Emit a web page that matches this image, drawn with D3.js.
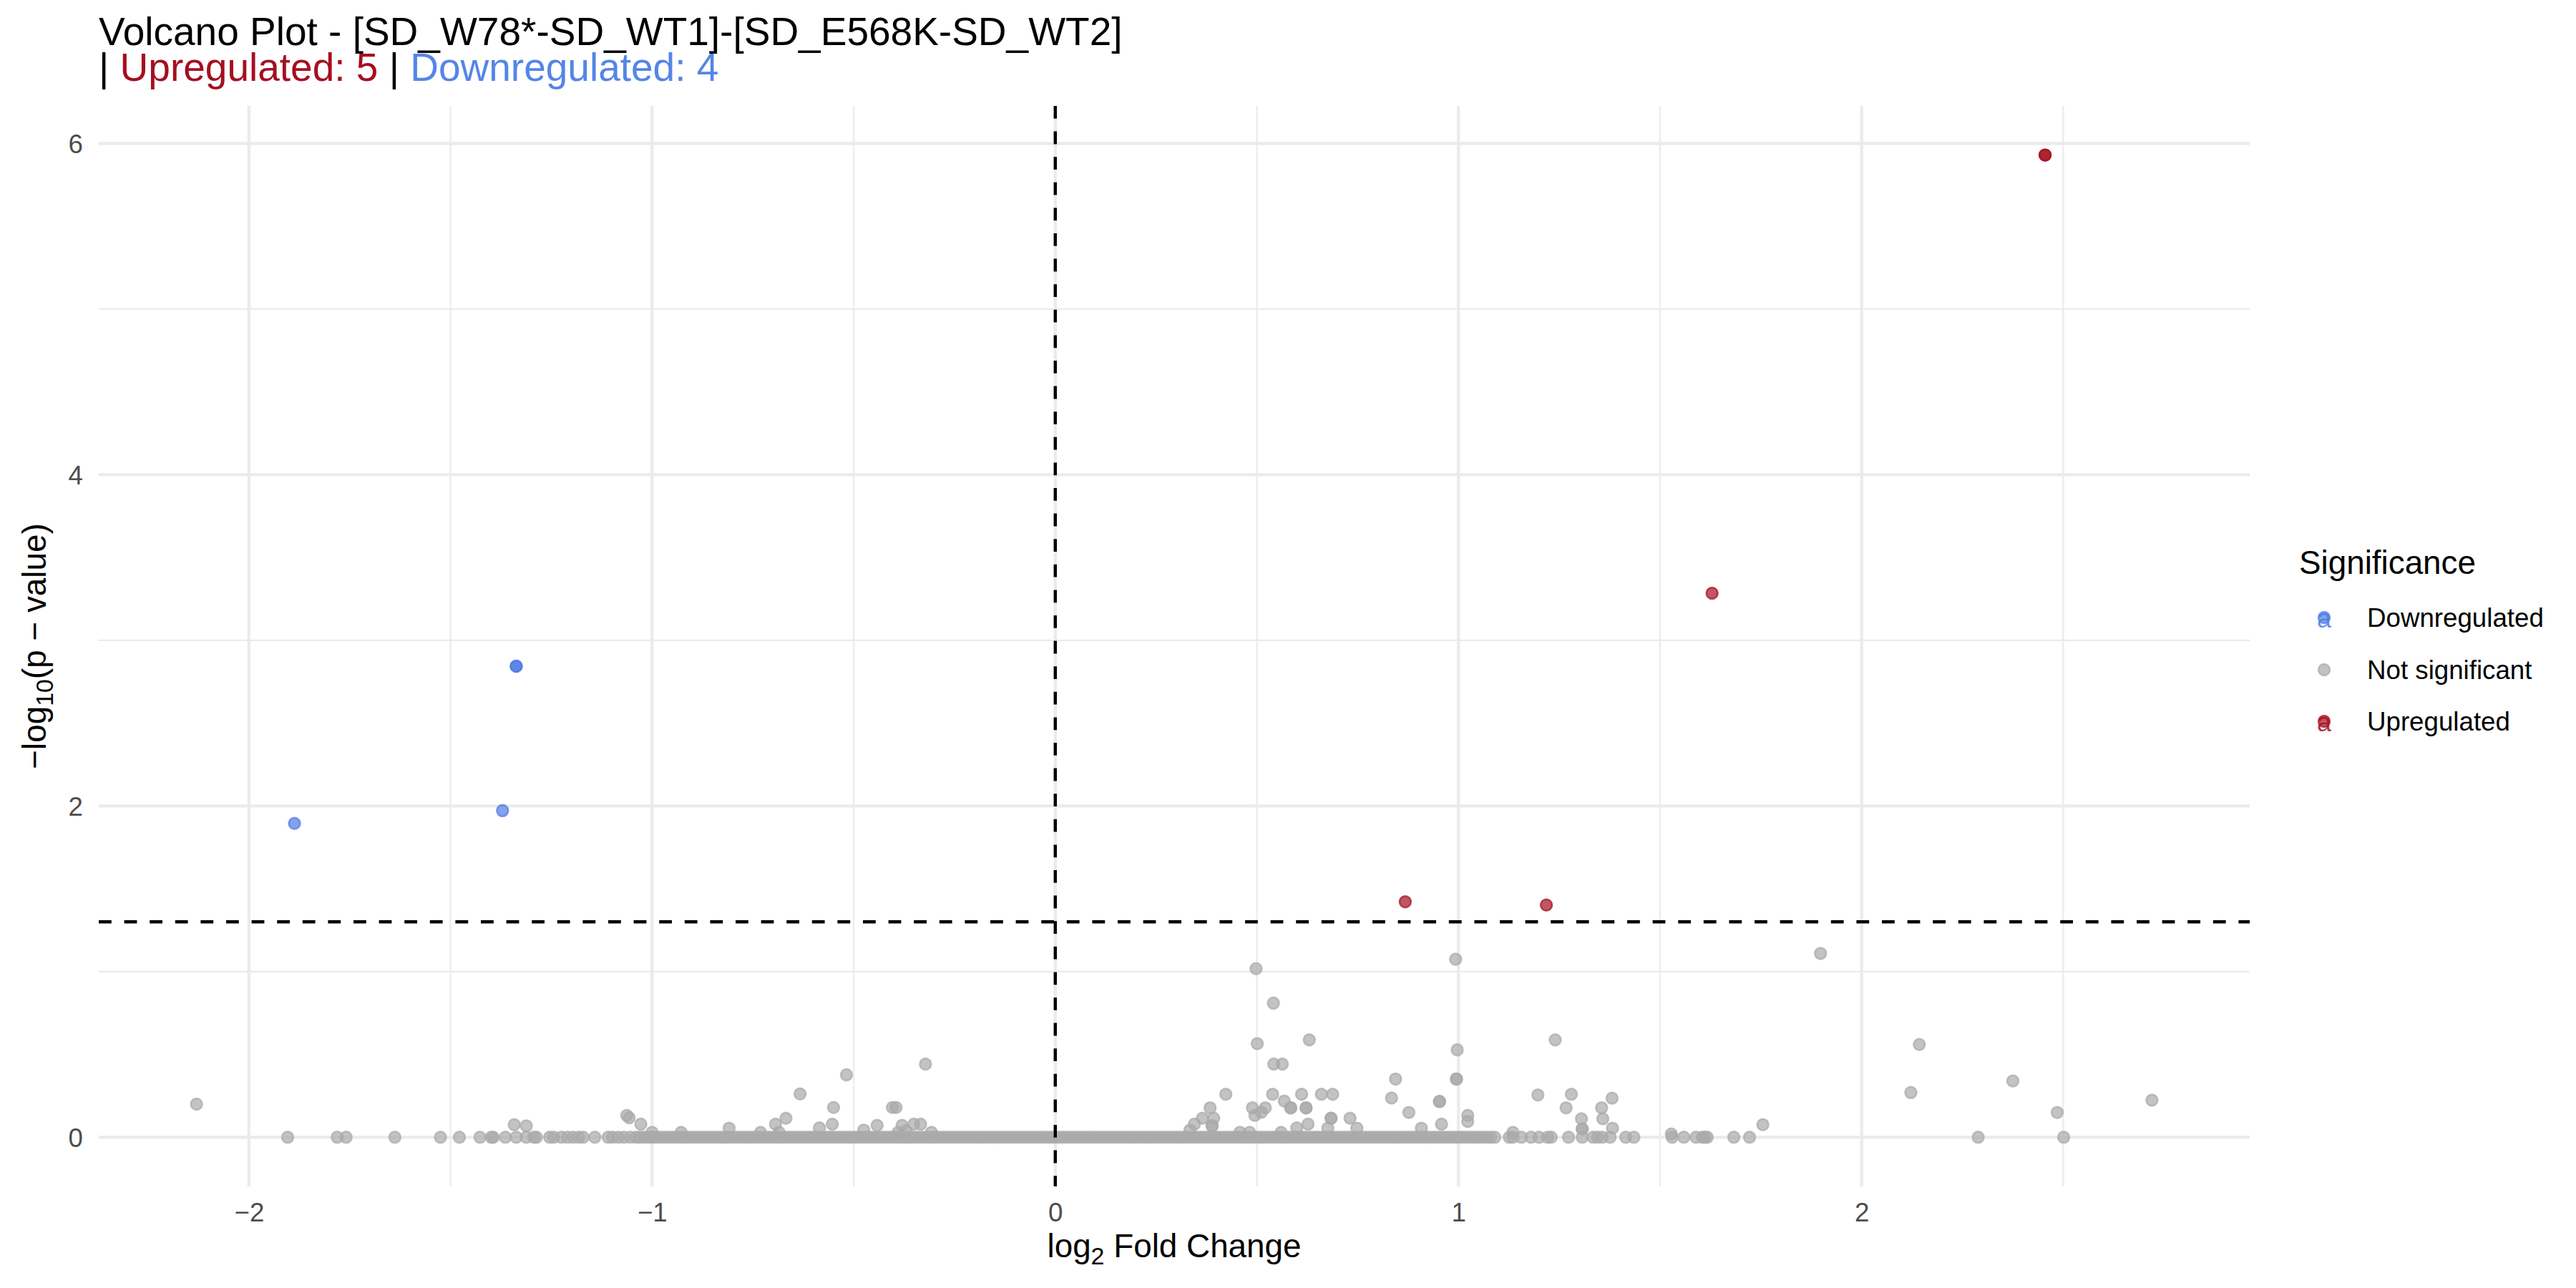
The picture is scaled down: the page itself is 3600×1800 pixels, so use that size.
<!DOCTYPE html>
<html><head><meta charset="utf-8">
<script src="https://cdn.jsdelivr.net/npm/d3@7"></script>
<style>html,body{margin:0;padding:0;background:#fff}</style>
</head><body><svg id="chart" width="3600" height="1800"></svg>
<script>
// ---------------- data ----------------
const titleMain = "Volcano Plot - [SD_W78*-SD_WT1]-[SD_E568K-SD_WT2]";
const upCount = 5, downCount = 4;
const categories = ["Downregulated", "Not significant", "Upregulated"];
const xTicks = [-2, -1, 0, 1, 2];
const yTicks = [0, 2, 4, 6];
const pCutoff = 0.05;
const fcCutoff = 0;

// Upregulated (log2FC, -log10 p)
const upX = [2.455, 2.455, 1.629, 0.868, 1.218];
const upY = [5.93, 5.93, 3.285, 1.422, 1.402];
// Downregulated
const downX = [-1.337, -1.337, -1.371, -1.887];
const downY = [2.844, 2.844, 1.972, 1.895];

// Not significant, scattered points
const nsX = [
 -2.13, -1.904, -1.781, -1.759, -1.638, -1.525, -1.478, -1.427, -1.399, -1.394, -1.364, -1.337, -1.312,
 -1.293, -1.287, -1.254, -1.244, -1.225, -1.210, -1.196, -1.182, -1.171, -1.142, -1.109, -1.098, -1.084,
 -1.070, -1.054,
 -1.342, -1.312, -1.063, -1.057, -1.028, -1.000, -0.928, -0.809, -0.731, -0.694, -0.668, -0.633, -0.685,
 -0.585, -0.553, -0.550, -0.518, -0.475, -0.442, -0.404, -0.395, -0.390, -0.380, -0.370, -0.351, -0.334,
 -0.322, -0.307,
 0.498, 0.541, 0.501, 0.630, 0.542, 0.563, 0.423, 0.539, 0.611, 0.660, 0.688, 0.844, 0.834, 0.877, 0.908,
 0.384, 0.365, 0.393, 0.345, 0.334, 0.389, 0.389, 0.489, 0.521, 0.495, 0.511, 0.568, 0.584, 0.584, 0.622,
 0.622, 0.684, 0.684, 0.731, 0.748, 0.599, 0.627, 0.676, 0.560, 0.458, 0.482,
 0.993, 0.997, 0.995, 0.995, 0.953, 0.953, 0.958, 1.023, 1.023, 1.240, 1.197, 1.280, 1.267, 1.381, 1.355,
 1.358, 1.305, 1.307, 1.307, 1.382, 1.135, 1.528, 1.755,
 1.090, 1.126, 1.135, 1.156, 1.180, 1.200, 1.221, 1.230, 1.273, 1.307, 1.334, 1.345, 1.357, 1.376, 1.415,
 1.435, 1.530, 1.559, 1.589, 1.605, 1.611, 1.617, 1.683, 1.722,
 1.898, 2.143, 2.122, 2.375, 2.485, 2.72, 2.289, 2.501
];
const nsY = [
 0.20, 0, 0, 0, 0, 0, 0, 0, 0, 0, 0, 0, 0,
 0, 0, 0, 0, 0, 0, 0, 0, 0, 0, 0, 0, 0,
 0, 0,
 0.076, 0.069, 0.132, 0.118, 0.079, 0.030, 0.030, 0.055, 0.030, 0.079, 0.115, 0.262, 0.030,
 0.057, 0.079, 0.180, 0.377, 0.043, 0.072, 0.180, 0.180, 0.030, 0.072, 0.040, 0.079, 0.079,
 0.442, 0.030,
 1.018, 0.810, 0.565, 0.588, 0.442, 0.442, 0.260, 0.260, 0.260, 0.260, 0.260, 0.352, 0.237, 0.150, 0.055,
 0.178, 0.115, 0.115, 0.079, 0.043, 0.069, 0.069, 0.178, 0.178, 0.132, 0.151, 0.219, 0.178, 0.178, 0.178,
 0.178, 0.115, 0.115, 0.115, 0.055, 0.057, 0.079, 0.055, 0.030, 0.030, 0.030,
 1.075, 0.528, 0.352, 0.352, 0.216, 0.216, 0.079, 0.132, 0.096, 0.588, 0.255, 0.260, 0.178, 0.236, 0.178,
 0.112, 0.112, 0.050, 0.050, 0.055, 0.030, 0.020, 0.076,
 0, 0, 0, 0, 0, 0, 0, 0, 0, 0, 0, 0, 0, 0, 0,
 0, 0, 0, 0, 0, 0, 0, 0, 0,
 1.11, 0.56, 0.27, 0.34, 0.15, 0.224, 0, 0
];

// Not significant, dense row near -log10 p = 0
const bandX = [
 -1.04,-1.02,-1.00,-0.98,-0.96,-0.94,-0.92,-0.90,-0.88,-0.86,-0.84,-0.82,-0.80,-0.78,-0.76,-0.74,-0.72,-0.70,
 -0.68,-0.66,-0.64,-0.62,-0.60,-0.58,-0.56,-0.54,-0.52,-0.50,-0.48,-0.46,-0.44,-0.42,-0.40,-0.38,-0.36,-0.34,
 -0.32,-0.30,-0.28,-0.26,-0.24,-0.22,-0.20,-0.18,-0.16,-0.14,-0.12,-0.10,-0.08,-0.06,-0.04,-0.02,0.00,0.02,
 0.04,0.06,0.08,0.10,0.12,0.14,0.16,0.18,0.20,0.22,0.24,0.26,0.28,0.30,0.32,0.34,0.36,0.38,0.40,0.42,0.44,
 0.46,0.48,0.50,0.52,0.54,0.56,0.58,0.60,0.62,0.64,0.66,0.68,0.70,0.72,0.74,0.76,0.78,0.80,0.82,0.84,0.86,
 0.88,0.90,0.92,0.94,0.96,0.98,1.00,1.02,1.04,1.06,1.08
];
const bandX2 = [
 -1.03,-1.01,-0.99,-0.97,-0.95,-0.93,-0.91,-0.89,-0.87,-0.85,-0.83,-0.81,-0.79,-0.77,-0.75,-0.73,-0.71,-0.69,
 -0.67,-0.65,-0.63,-0.61,-0.59,-0.57,-0.55,-0.53,-0.51,-0.49,-0.47,-0.45,-0.43,-0.41,-0.39,-0.37,-0.35,-0.33,
 -0.31,-0.29,-0.27,-0.25,-0.23,-0.21,-0.19,-0.17,-0.15,-0.13,-0.11,-0.09,-0.07,-0.05,-0.03,-0.01,0.01,0.03,
 0.05,0.07,0.09,0.11,0.13,0.15,0.17,0.19,0.21,0.23,0.25,0.27,0.29,0.31,0.33,0.35,0.37,0.39,0.41,0.43,0.45,
 0.47,0.49,0.51,0.53,0.55,0.57,0.59,0.61,0.63,0.65,0.67,0.69,0.71,0.73,0.75,0.77,0.79,0.81,0.83,0.85,0.87,
 0.89,0.91,0.93,0.95,0.97,0.99,1.01,1.03,1.05,1.07
];

// ---------------- styles ----------------
const colors = { "Downregulated": "#4F7BE4", "Not significant": "#A9A9A9", "Upregulated": "#A50F20" };
const titleColors = { up: "#A50F20", down: "#5585E6" };
const FONT = "'Liberation Sans', Arial, Helvetica, sans-serif";
const panel = { left: 138, right: 3144, top: 148, bottom: 1658 };

// ---------------- build ----------------
const svg = d3.select("#chart");
svg.append("rect").attr("width", 3600).attr("height", 1800).attr("fill", "#fff");

const points = [];
bandX.forEach(x => points.push({ x, y: 0, g: "Not significant" }));
bandX2.forEach(x => points.push({ x, y: 0, g: "Not significant" }));
nsX.forEach((x, i) => points.push({ x, y: nsY[i], g: "Not significant" }));
downX.forEach((x, i) => points.push({ x, y: downY[i], g: "Downregulated" }));
upX.forEach((x, i) => points.push({ x, y: upY[i], g: "Upregulated" }));

const xe = d3.extent(points, d => d.x), ye = d3.extent(points, d => d.y);
const xr = xe[1] - xe[0], yr = ye[1] - ye[0];
const x = d3.scaleLinear().domain([xe[0] - 0.05 * xr, xe[1] + 0.05 * xr]).range([panel.left, panel.right]);
const y = d3.scaleLinear().domain([ye[0] - 0.05 * yr, ye[1] + 0.05 * yr]).range([panel.bottom, panel.top]);

// grid
const grid = svg.append("g");
const xMinor = [-1.5, -0.5, 0.5, 1.5, 2.5].filter(v => v > x.domain()[0] && v < x.domain()[1]);
const yMinor = [1, 3, 5];
grid.selectAll(".xm").data(xMinor).join("line")
  .attr("x1", d => x(d)).attr("x2", d => x(d)).attr("y1", panel.top).attr("y2", panel.bottom)
  .attr("stroke", "#EBEBEB").attr("stroke-width", 2.2);
grid.selectAll(".ym").data(yMinor).join("line")
  .attr("y1", d => y(d)).attr("y2", d => y(d)).attr("x1", panel.left).attr("x2", panel.right)
  .attr("stroke", "#EBEBEB").attr("stroke-width", 2.2);
grid.selectAll(".xM").data(xTicks).join("line")
  .attr("x1", d => x(d)).attr("x2", d => x(d)).attr("y1", panel.top).attr("y2", panel.bottom)
  .attr("stroke", "#EBEBEB").attr("stroke-width", 4.4);
grid.selectAll(".yM").data(yTicks).join("line")
  .attr("y1", d => y(d)).attr("y2", d => y(d)).attr("x1", panel.left).attr("x2", panel.right)
  .attr("stroke", "#EBEBEB").attr("stroke-width", 4.4);

// points
const ptG = svg.append("g");
ptG.selectAll("circle").data(points).join("circle")
  .attr("cx", d => x(d.x)).attr("cy", d => y(d.y)).attr("r", 8)
  .attr("fill", d => colors[d.g]).attr("fill-opacity", 0.7)
  .attr("stroke", d => colors[d.g]).attr("stroke-opacity", 0.7).attr("stroke-width", 2.5);

// threshold lines
svg.append("line")
  .attr("x1", panel.left).attr("x2", panel.right)
  .attr("y1", y(-Math.log10(pCutoff))).attr("y2", y(-Math.log10(pCutoff)))
  .attr("stroke", "#000").attr("stroke-width", 4.4).attr("stroke-dasharray", "17.8,17.8");
svg.append("line")
  .attr("x1", x(fcCutoff)).attr("x2", x(fcCutoff))
  .attr("y1", panel.top).attr("y2", panel.bottom)
  .attr("stroke", "#000").attr("stroke-width", 4.4).attr("stroke-dasharray", "17.8,17.8");

// axes (labels only)
const xAxis = svg.append("g").attr("transform", `translate(0,${panel.bottom})`)
  .call(d3.axisBottom(x).tickValues(xTicks).tickSize(0).tickPadding(0).tickFormat(d3.format("d")));
xAxis.select(".domain").remove();
xAxis.selectAll("text").attr("y", 49).attr("dy", null)
  .attr("font-family", FONT).attr("font-size", 36.7).attr("fill", "#4D4D4D");

const yAxis = svg.append("g").attr("transform", `translate(${panel.left},0)`)
  .call(d3.axisLeft(y).tickValues(yTicks).tickSize(0).tickPadding(0).tickFormat(d3.format("d")));
yAxis.select(".domain").remove();
yAxis.selectAll("text").attr("x", -22).attr("dy", "0.35em")
  .attr("font-family", FONT).attr("font-size", 36.7).attr("fill", "#4D4D4D").attr("text-anchor", "end");

// axis titles
const xt = svg.append("text").attr("x", (panel.left + panel.right) / 2).attr("y", 1757)
  .attr("text-anchor", "middle").attr("font-family", FONT).attr("font-size", 45.8).attr("fill", "#000");
xt.append("tspan").text("log");
xt.append("tspan").attr("font-size", 34).attr("dy", 10).text("2");
xt.append("tspan").attr("dy", -10).text(" Fold Change");

const yt = svg.append("text")
  .attr("transform", `translate(64,${(panel.top + panel.bottom) / 2}) rotate(-90)`)
  .attr("text-anchor", "middle").attr("font-family", FONT).attr("font-size", 45.8).attr("fill", "#000");
yt.append("tspan").text("\u2212log");
yt.append("tspan").attr("font-size", 34).attr("dy", 10).text("10");
yt.append("tspan").attr("dy", -10).text("(p \u2212 value)");

// title (two lines, tight ggplot line height)
const title = svg.append("text").attr("font-family", FONT).attr("font-size", 55).attr("fill", "#000");
title.append("tspan").attr("x", 138).attr("y", 63).text(titleMain);
const l2 = title.append("tspan").attr("x", 138).attr("y", 113);
title.append("tspan").text("| ");
title.select("tspan:last-child").remove();
l2.text("| ");
title.append("tspan").attr("fill", titleColors.up).text("Upregulated: " + upCount);
title.append("tspan").text(" | ");
title.append("tspan").attr("fill", titleColors.down).text("Downregulated: " + downCount);

// legend
const lg = svg.append("g");
lg.append("text").attr("x", 3213).attr("y", 802)
  .attr("font-family", FONT).attr("font-size", 45.8).attr("fill", "#000").text("Significance");
const keyY = [863, 936, 1008];
categories.forEach((c, i) => {
  lg.append("circle").attr("cx", 3248).attr("cy", keyY[i]).attr("r", 8)
    .attr("fill", colors[c]).attr("fill-opacity", 0.7)
    .attr("stroke", colors[c]).attr("stroke-opacity", 0.7).attr("stroke-width", 2.5);
  if (c !== "Not significant") {
    lg.append("text").attr("x", 3248).attr("y", keyY[i] + 14).attr("text-anchor", "middle")
      .attr("font-family", FONT).attr("font-size", 36).attr("fill", colors[c]).attr("fill-opacity", 0.85).text("a");
  }
  lg.append("text").attr("x", 3308).attr("y", keyY[i] + 13)
    .attr("font-family", FONT).attr("font-size", 36.7).attr("fill", "#000").text(c);
});
</script>
</body></html>
